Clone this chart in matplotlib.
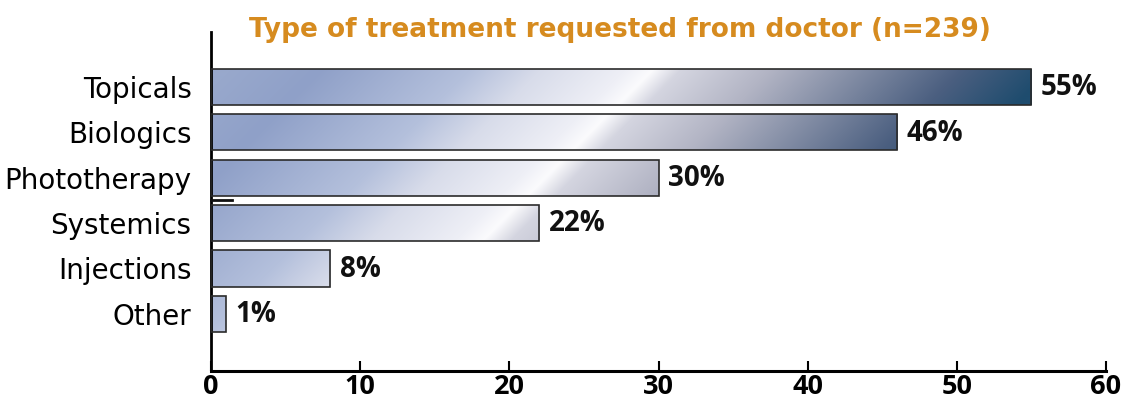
import numpy as np
import matplotlib
matplotlib.use("Agg")
import matplotlib.pyplot as plt

# data
categories = ["Topicals", "Biologics", "Phototherapy", "Systemics", "Injections", "Other"]
percent = [55, 46, 30, 22, 8, 1]
xticks = [0, 10, 20, 30, 40, 50, 60]
title = "Type of treatment requested from doctor (n=239)"

plt.rcParams['font.family'] = ['DejaVu Sans']
num_font = ['Open Sans', 'DejaVu Sans']

W, H = 1126, 403
fig = plt.figure(figsize=(W / 100, H / 100), dpi=100)
ax_l, ax_r, ax_t, ax_b = 211, 1106, 32, 371
ax = fig.add_axes([ax_l / W, 1 - ax_b / H, (ax_r - ax_l) / W, (ax_b - ax_t) / H])

ypos = np.arange(len(categories))
bars = ax.barh(ypos, percent, height=0.8, color='none', edgecolor='#2b2b2b',
               linewidth=1.2, zorder=3)

# diagonal (45 deg) gradient shared across the whole plot area
gw, gh = ax_r - ax_l, ax_b - ax_t
cols = ax_l + np.arange(gw)
rows = ax_t + np.arange(gh)
s = cols[None, :] + rows[:, None]
stops = [300, 390, 540, 610, 695, 722, 750, 840, 1030, 1120]
stop_cols = ['#98a8cc', '#8fa0c8', '#b4c0dc', '#d8dcea', '#eeeff6', '#fbfbfd',
             '#d4d5e0', '#b2b4c4', '#4b5f80', '#1e4c6e']
rgb = np.array([matplotlib.colors.to_rgb(c) for c in stop_cols])
img = np.dstack([np.interp(s, stops, rgb[:, k]) for k in range(3)])

for b in bars:
    im = ax.imshow(img, extent=(0, 1, 0, 1), origin='upper', transform=ax.transAxes,
                   aspect='auto', zorder=2, interpolation='bilinear')
    im.set_clip_path(b)

ax.set_xlim(0, 60)
ax.set_ylim(6.26, -1.21)

for b, v in zip(bars, percent):
    ax.text(v + 0.65, b.get_y() + b.get_height() / 2 + 0.02, f"{v}%", va='center', ha='left',
            fontsize=20, fontweight='bold', color='#111111', zorder=4, family=num_font)

# small stray mark on the axis in the original
ax.plot([0, 1.4], [2.49, 2.49], color='#111111', lw=2, zorder=4, clip_on=False)

ax.set_yticks(ypos)
ax.set_yticklabels(categories, fontsize=20)
ax.tick_params(axis='y', length=0, pad=14)
ax.set_xticks(xticks)
ax.set_xticklabels([str(t) for t in xticks], fontsize=19.5, fontweight='bold', family=num_font)
ax.tick_params(axis='x', direction='in', length=7, width=1.5, pad=2)

for side in ['top', 'right']:
    ax.spines[side].set_visible(False)
ax.spines['left'].set_linewidth(2)
ax.spines['bottom'].set_linewidth(2.2)

fig.text(620 / W, 1 - 30 / H, title, ha='center', va='center', fontsize=19,
         fontweight='bold', color='#d68b1f')

fig.savefig("out.png", dpi=100)
